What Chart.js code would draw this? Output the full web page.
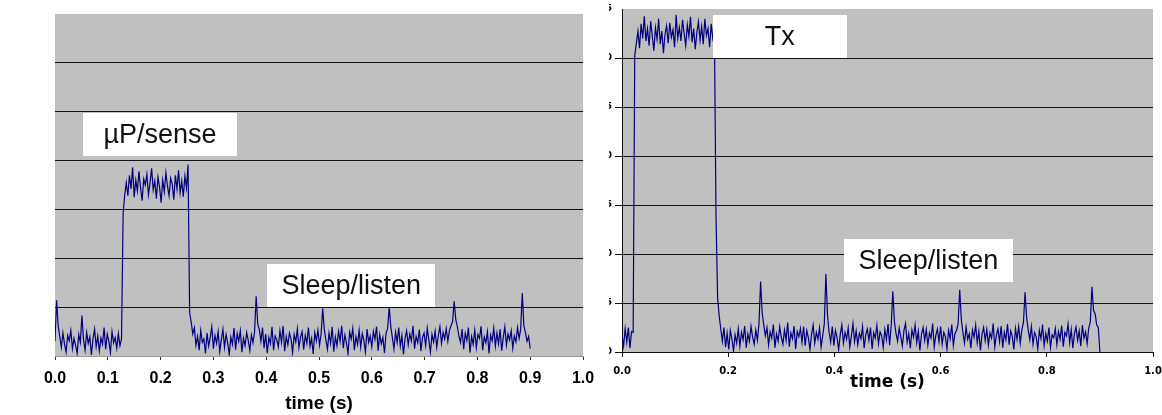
<!DOCTYPE html>
<html>
<head>
<meta charset="utf-8">
<script src="https://cdn.jsdelivr.net/npm/chart.js@4.4.1/dist/chart.umd.min.js"></script>
<style>
  html, body { margin: 0; padding: 0; background: #fff; }
  body { width: 1162px; height: 415px; position: relative; overflow: hidden; }
  canvas { position: absolute; top: 0; }
  #sensePlot { left: 0; }
  #txPlot { left: 609px; }
</style>
</head>
<body>
<canvas id="sensePlot" width="600" height="415"></canvas>
<canvas id="txPlot" width="553" height="415"></canvas>
<script>
// --- Data: both traces share the same sample times (s) ---
const sampleTime = [
  0.000, 0.003, 0.006, 0.009, 0.012, 0.015, 0.018, 0.021, 0.024, 0.027,
  0.030, 0.033, 0.036, 0.039, 0.042, 0.045, 0.048, 0.051, 0.054, 0.057,
  0.060, 0.063, 0.066, 0.069, 0.072, 0.075, 0.078, 0.081, 0.084, 0.087,
  0.090, 0.093, 0.096, 0.099, 0.102, 0.105, 0.108, 0.111, 0.114, 0.117,
  0.120, 0.123, 0.126, 0.129, 0.132, 0.135, 0.138, 0.141, 0.144, 0.147,
  0.150, 0.153, 0.156, 0.159, 0.162, 0.165, 0.168, 0.171, 0.174, 0.177,
  0.180, 0.183, 0.186, 0.189, 0.192, 0.195, 0.198, 0.201, 0.204, 0.207,
  0.210, 0.213, 0.216, 0.219, 0.222, 0.225, 0.228, 0.231, 0.234, 0.237,
  0.240, 0.243, 0.246, 0.249, 0.252, 0.255, 0.258, 0.261, 0.264, 0.267,
  0.270, 0.273, 0.276, 0.279, 0.282, 0.285, 0.288, 0.291, 0.294, 0.297,
  0.300, 0.303, 0.306, 0.309, 0.312, 0.315, 0.318, 0.321, 0.324, 0.327,
  0.330, 0.333, 0.336, 0.339, 0.342, 0.345, 0.348, 0.351, 0.354, 0.357,
  0.360, 0.363, 0.366, 0.369, 0.372, 0.375, 0.378, 0.381, 0.384, 0.387,
  0.390, 0.393, 0.396, 0.399, 0.402, 0.405, 0.408, 0.411, 0.414, 0.417,
  0.420, 0.423, 0.426, 0.429, 0.432, 0.435, 0.438, 0.441, 0.444, 0.447,
  0.450, 0.453, 0.456, 0.459, 0.462, 0.465, 0.468, 0.471, 0.474, 0.477,
  0.480, 0.483, 0.486, 0.489, 0.492, 0.495, 0.498, 0.501, 0.504, 0.507,
  0.510, 0.513, 0.516, 0.519, 0.522, 0.525, 0.528, 0.531, 0.534, 0.537,
  0.540, 0.543, 0.546, 0.549, 0.552, 0.555, 0.558, 0.561, 0.564, 0.567,
  0.570, 0.573, 0.576, 0.579, 0.582, 0.585, 0.588, 0.591, 0.594, 0.597,
  0.600, 0.603, 0.606, 0.609, 0.612, 0.615, 0.618, 0.621, 0.624, 0.627,
  0.630, 0.633, 0.636, 0.639, 0.642, 0.645, 0.648, 0.651, 0.654, 0.657,
  0.660, 0.663, 0.666, 0.669, 0.672, 0.675, 0.678, 0.681, 0.684, 0.687,
  0.690, 0.693, 0.696, 0.699, 0.702, 0.705, 0.708, 0.711, 0.714, 0.717,
  0.720, 0.723, 0.726, 0.729, 0.732, 0.735, 0.738, 0.741, 0.744, 0.747,
  0.750, 0.753, 0.756, 0.759, 0.762, 0.765, 0.768, 0.771, 0.774, 0.777,
  0.780, 0.783, 0.786, 0.789, 0.792, 0.795, 0.798, 0.801, 0.804, 0.807,
  0.810, 0.813, 0.816, 0.819, 0.822, 0.825, 0.828, 0.831, 0.834, 0.837,
  0.840, 0.843, 0.846, 0.849, 0.852, 0.855, 0.858, 0.861, 0.864, 0.867,
  0.870, 0.873, 0.876, 0.879, 0.882, 0.885, 0.888, 0.891, 0.894, 0.897,
  0.900
];

// left trace: µP/sense burst, power in grid units (one unit per gridline)
const sensePower = [
  0.30, 1.14, 0.62, 0.40, 0.18, 0.47, 0.25, 0.08, 0.42, 0.31,
  0.52, 0.15, 0.36, 0.22, 0.05, 0.44, 0.28, 0.83, 0.33, 0.12,
  0.48, 0.26, 0.39, 0.02, 0.35, 0.55, 0.19, 0.41, 0.10, 0.37,
  0.24, 0.58, 0.14, 0.45, 0.30, 0.07, 0.50, 0.27, 0.38, 0.16,
  0.46, 0.21, 0.35, 2.90, 3.30, 3.55, 3.28, 3.70, 3.42, 3.86,
  3.25, 3.60, 3.38, 3.78, 3.45, 3.18, 3.62, 3.50, 3.72, 3.30,
  3.55, 3.84, 3.40, 3.58, 3.22, 3.66, 3.46, 3.14, 3.60, 3.36,
  3.75, 3.48, 3.28, 3.64, 3.52, 3.20, 3.70, 3.42, 3.80, 3.34,
  3.58, 3.26, 3.68, 3.44, 3.92, 0.89, 0.69, 0.45, 0.58, 0.22,
  0.40, 0.12, 0.52, 0.28, 0.35, 0.05, 0.47, 0.20, 0.38, 0.60,
  0.15, 0.42, 0.26, 0.50, 0.09, 0.33, 0.55, 0.18, 0.44, 0.27,
  0.03, 0.39, 0.24, 0.57, 0.13, 0.46, 0.30, 0.52, 0.08, 0.36,
  0.21, 0.48, 0.32, 0.11, 0.43, 0.27, 0.50, 1.22, 0.65, 0.54,
  0.30, 0.58, 0.16, 0.45, 0.06, 0.38, 0.25, 0.60, 0.12, 0.41,
  0.33, 0.19, 0.52, 0.28, 0.62, 0.10, 0.40, 0.23, 0.47, 0.35,
  0.07, 0.44, 0.29, 0.56, 0.17, 0.38, 0.50, 0.13, 0.42, 0.26,
  0.58, 0.20, 0.36, 0.04, 0.48, 0.31, 0.53, 0.22, 0.45, 0.97,
  0.55, 0.33, 0.14, 0.47, 0.26, 0.60, 0.09, 0.39, 0.21, 0.51,
  0.30, 0.62, 0.16, 0.43, 0.27, 0.05, 0.49, 0.35, 0.57, 0.12,
  0.40, 0.24, 0.53, 0.18, 0.46, 0.32, 0.08, 0.55, 0.28, 0.41,
  0.19, 0.50, 0.34, 0.60, 0.11, 0.44, 0.25, 0.38, 0.06, 0.47,
  0.56, 1.00, 0.60, 0.37, 0.14, 0.49, 0.28, 0.58, 0.20, 0.42,
  0.03, 0.36, 0.52, 0.23, 0.45, 0.31, 0.62, 0.15, 0.40, 0.27,
  0.54, 0.10, 0.38, 0.47, 0.21, 0.57, 0.33, 0.08, 0.44, 0.29,
  0.51, 0.18, 0.42, 0.60, 0.26, 0.48, 0.35, 0.56, 0.30, 0.52,
  0.62, 0.70, 1.12, 0.75, 0.60, 0.41, 0.28, 0.55, 0.14, 0.46,
  0.32, 0.58, 0.07, 0.40, 0.24, 0.53, 0.17, 0.44, 0.36, 0.61,
  0.12, 0.39, 0.27, 0.50, 0.05, 0.43, 0.31, 0.57, 0.20, 0.47,
  0.25, 0.55, 0.11, 0.38, 0.60, 0.22, 0.45, 0.33, 0.52, 0.16,
  0.41, 0.29, 0.58, 0.36, 0.55, 1.29, 0.62, 0.48, 0.30, 0.40,
  0.15
];

// right trace: Tx burst
const txPower = [
  0.35, 0.12, 0.48, 0.20, 0.50, 0.08, 0.42, 0.40, 6.05, 6.30,
  6.55, 6.20, 6.70, 6.40, 6.85, 6.35, 6.60, 6.25, 6.75, 6.45,
  6.15, 6.62, 6.38, 6.80, 6.28, 6.55, 6.10, 6.48, 6.66, 6.30,
  6.72, 6.42, 6.58, 6.22, 6.88, 6.40, 6.62, 6.35, 6.78, 6.50,
  6.25, 6.68, 6.44, 6.84, 6.32, 6.60, 6.18, 6.52, 6.74, 6.36,
  6.64, 6.28, 6.80, 6.46, 6.60, 6.22, 6.70, 6.40, 6.55, 2.80,
  1.11, 0.74, 0.47, 0.22, 0.50, 0.10, 0.38, 0.05, 0.44, 0.27,
  0.02, 0.35, 0.18, 0.47, 0.12, 0.40, 0.25, 0.53, 0.09, 0.37,
  0.22, 0.52, 0.30, 0.16, 0.45, 0.24, 0.58, 1.44, 0.80, 0.55,
  0.33, 0.50, 0.14, 0.41, 0.28, 0.56, 0.09, 0.37, 0.22, 0.52,
  0.30, 0.16, 0.45, 0.24, 0.60, 0.11, 0.39, 0.27, 0.53, 0.06,
  0.42, 0.31, 0.48, 0.20, 0.52, 0.13, 0.44, 0.29, 0.05, 0.36,
  0.55, 0.18, 0.40, 0.26, 0.49, 0.10, 0.33, 0.58, 1.59, 0.75,
  0.40, 0.20, 0.52, 0.13, 0.44, 0.29, 0.05, 0.36, 0.55, 0.18,
  0.40, 0.26, 0.49, 0.10, 0.33, 0.58, 0.21, 0.43, 0.15, 0.38,
  0.27, 0.52, 0.08, 0.35, 0.47, 0.24, 0.50, 0.06, 0.39, 0.28,
  0.54, 0.17, 0.41, 0.33, 0.09, 0.46, 0.25, 0.57, 0.14, 0.55,
  1.24, 0.62, 0.38, 0.22, 0.49, 0.31, 0.12, 0.44, 0.58, 0.20,
  0.37, 0.08, 0.45, 0.30, 0.55, 0.19, 0.42, 0.03, 0.36, 0.50,
  0.23, 0.46, 0.14, 0.39, 0.28, 0.58, 0.10, 0.34, 0.47, 0.21,
  0.52, 0.16, 0.40, 0.31, 0.06, 0.44, 0.27, 0.56, 0.13, 0.38,
  0.44, 0.58, 1.27, 0.66, 0.40, 0.18, 0.51, 0.26, 0.37, 0.08,
  0.45, 0.30, 0.55, 0.19, 0.42, 0.03, 0.36, 0.50, 0.23, 0.46,
  0.14, 0.39, 0.28, 0.58, 0.10, 0.34, 0.47, 0.21, 0.53, 0.09,
  0.40, 0.25, 0.57, 0.15, 0.43, 0.32, 0.05, 0.48, 0.26, 0.52,
  0.18, 0.45, 0.60, 1.22, 0.70, 0.45, 0.25, 0.52, 0.16, 0.40,
  0.31, 0.06, 0.44, 0.27, 0.56, 0.13, 0.38, 0.22, 0.50, 0.09,
  0.35, 0.29, 0.48, 0.15, 0.42, 0.26, 0.54, 0.11, 0.40, 0.33,
  0.57, 0.19, 0.46, 0.08, 0.37, 0.51, 0.24, 0.43, 0.12, 0.55,
  0.28, 0.41, 0.17, 0.49, 0.62, 1.33, 0.85, 0.78, 0.55, 0.50,
  0.00
];

// y tick labels of the right plot (only their right edge survives in the picture)
const txLevelLabels = ['0', '5', '10', '15', '20', '25', '30', '35'];

// callout labels, placed in data units (time, level)
const senseNotes = ['µP/sense', 'Sleep/listen'];
const senseNoteTime = [0.199, 0.561];
const senseNoteLevel = [4.54, 1.44];
const txNotes = ['Tx', 'Sleep/listen'];
const txNoteTime = [0.297, 0.577];
const txNoteLevel = [6.44, 1.87];

const toPoints = (t, v) => t.map((x, i) => ({ x: x, y: v[i] }));

// gray plot area
const plotBackground = {
  id: 'plotBackground',
  beforeDraw(chart, args, opts) {
    const { ctx, chartArea: a } = chart;
    ctx.save();
    ctx.fillStyle = opts.color;
    ctx.fillRect(a.left, a.top, a.width, a.height);
    ctx.restore();
  }
};

// white text boxes on top of the trace
const callouts = {
  id: 'callouts',
  afterDatasetsDraw(chart, args, opts) {
    const { ctx, scales } = chart;
    ctx.save();
    ctx.font = opts.font;
    ctx.textAlign = 'center';
    ctx.textBaseline = 'middle';
    opts.text.forEach((label, i) => {
      const cx = scales.x.getPixelForValue(opts.time[i]);
      const cy = scales.y.getPixelForValue(opts.level[i]);
      const w = opts.widths[i], h = opts.height;
      ctx.fillStyle = '#fff';
      ctx.fillRect(Math.round(cx - w / 2), Math.round(cy - h / 2), w, h);
      ctx.fillStyle = '#111';
      ctx.fillText(label, cx, cy + 1);
    });
    ctx.restore();
  }
};

const traceColor = '#000080';
const gridColor = '#111';
const noteFont = '27px "Liberation Sans", Arial, sans-serif';

// no extra room for the end labels, the layout padding decides
const fitX = h => s => { s.height = h; s.paddingLeft = 0; s.paddingRight = 0; };
const fitY = w => s => { s.width = w; s.paddingTop = 0; s.paddingBottom = 0; };

// --- Left chart ---
new Chart(document.getElementById('sensePlot'), {
  type: 'line',
  data: {
    datasets: [{
      data: toPoints(sampleTime, sensePower),
      borderColor: traceColor,
      borderWidth: 1.2,
      pointRadius: 0,
      tension: 0
    }]
  },
  options: {
    responsive: false,
    animation: false,
    devicePixelRatio: 1,
    layout: { padding: { top: 14, right: 17, left: 0, bottom: 0 } },
    plugins: {
      legend: { display: false },
      tooltip: { enabled: false },
      plotBackground: { color: '#c0c0c0' },
      callouts: {
        text: senseNotes, time: senseNoteTime, level: senseNoteLevel,
        widths: [154, 168], height: 43, font: noteFont
      }
    },
    scales: {
      x: {
        type: 'linear', min: 0, max: 1,
        afterFit: fitX(59),
        ticks: {
          stepSize: 0.1, autoSkip: false, maxRotation: 0, padding: 9, color: '#000',
          font: { family: '"Liberation Sans Narrow", "Liberation Sans", Arial, sans-serif', size: 16, weight: 'bold' },
          callback: v => Number(v).toFixed(1)
        },
        grid: { drawOnChartArea: false, tickLength: 4, tickColor: '#333' },
        border: { color: '#9a9a9a', dash: [2, 2] },
        title: {
          display: true, text: 'time (s)', color: '#000',
          font: { family: '"Liberation Sans", Arial, sans-serif', size: 19, weight: 'bold' },
          padding: { top: 0, bottom: 0 }
        }
      },
      y: {
        min: 0, max: 7,
        afterFit: fitY(55),
        ticks: { stepSize: 1, display: false },
        grid: {
          drawTicks: false,
          color: c => (c.tick.value === 0 || c.tick.value === 7) ? 'rgba(0,0,0,0)' : gridColor
        },
        border: { display: false }
      }
    }
  },
  plugins: [plotBackground, callouts]
});

// --- Right chart ---
new Chart(document.getElementById('txPlot'), {
  type: 'line',
  data: {
    datasets: [{
      data: toPoints(sampleTime, txPower),
      borderColor: traceColor,
      borderWidth: 1.2,
      pointRadius: 0,
      tension: 0
    }]
  },
  options: {
    responsive: false,
    animation: false,
    devicePixelRatio: 1,
    layout: { padding: { top: 9, right: 9, left: 0, bottom: 0 } },
    plugins: {
      legend: { display: false },
      tooltip: { enabled: false },
      plotBackground: { color: '#c0c0c0' },
      callouts: {
        text: txNotes, time: txNoteTime, level: txNoteLevel,
        widths: [134, 169], height: 43, font: noteFont
      }
    },
    scales: {
      x: {
        type: 'linear', min: 0, max: 1,
        afterFit: fitX(63),
        ticks: {
          stepSize: 0.2, autoSkip: false, maxRotation: 0, padding: 8, color: '#000',
          font: { family: '"DejaVu Sans", sans-serif', size: 10, weight: 'bold' },
          callback: v => Number(v).toFixed(1)
        },
        grid: { drawOnChartArea: false, tickLength: 5, tickColor: gridColor },
        border: { color: gridColor },
        title: {
          display: true, text: 'time (s)', color: '#000',
          font: { family: '"DejaVu Sans", sans-serif', size: 17, weight: 'bold' },
          padding: { top: 0, bottom: 22 }
        }
      },
      y: {
        min: 0, max: 7,
        afterFit: fitY(13),
        ticks: {
          stepSize: 1, padding: 3, color: '#000',
          font: { family: '"DejaVu Sans", sans-serif', size: 9, weight: 'bold' },
          callback: v => txLevelLabels[v]
        },
        grid: {
          tickLength: 7,
          color: c => c.tick.value === 7 ? 'rgba(0,0,0,0)' : gridColor
        },
        border: { color: gridColor }
      }
    }
  },
  plugins: [plotBackground, callouts]
});
</script>
</body>
</html>
